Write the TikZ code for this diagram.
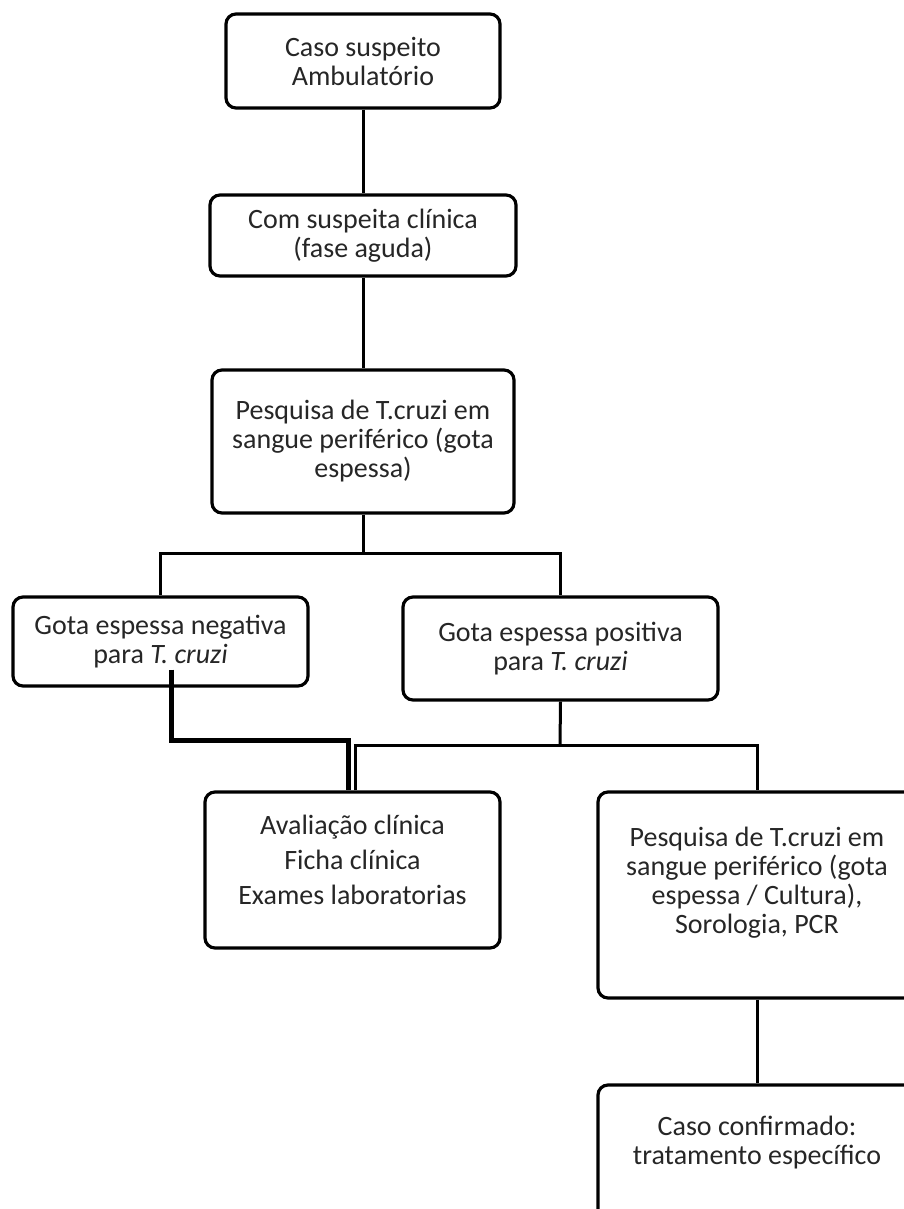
\documentclass[tikz,border=0pt]{standalone}
\usepackage{fontspec}
\setmainfont{Carlito}
\usepackage{tikz}
\usetikzlibrary{calc}

\begin{document}
\begin{tikzpicture}[x=1pt, y=-1pt, -, line join=miter,
  box/.style={draw, line width=3.2pt, rounded corners=10pt, align=center, inner sep=0pt, text=black!85, font=\fontsize{28}{29}\selectfont},
  link/.style={line width=3pt},
  thick link/.style={line width=5pt}]
\useasboundingbox (0,0) rectangle (903,1209);
\node[box, minimum width=274pt, minimum height=94pt] (caso) at (363,61) {Caso suspeito\\Ambulatório};
\node[box, minimum width=306pt, minimum height=81pt] (clin) at (363,235.5) {Com suspeita clínica\\(fase aguda)};
\node[box, minimum width=302pt, minimum height=143pt] (pesq) at (363,441.5) {Pesquisa de T.cruzi em\\sangue periférico (gota\\espessa)};
\node[box, minimum width=295pt, minimum height=89pt] (neg) at (160.5,641.5) {Gota espessa negativa\\para \textit{T. cruzi}};
\node[box, minimum width=315pt, minimum height=103pt] (pos) at (560.5,648.5) {Gota espessa positiva\\para \textit{T. cruzi}};
\node[box, minimum width=295pt, minimum height=156pt, text depth=20pt] (aval) at (352.5,870) {Avaliação clínica\\[6pt]Ficha clínica\\[6pt]Exames laboratorias};
\node[box, minimum width=318pt, minimum height=206pt, text depth=30pt] (lab) at (757,895) {Pesquisa de T.cruzi em\\sangue periférico (gota\\espessa / Cultura),\\Sorologia, PCR};
\node[box, minimum width=318pt, minimum height=150pt, text depth=40pt] (conf) at (757,1160) {Caso confirmado:\\tratamento específico};
\coordinate (j1) at (363,553);
\coordinate (j2) at (560,745);
\coordinate (bend) at (348,740);
\path[link]
(caso) edge (clin)
(clin) edge (pesq)
(pesq.south) edge (j1)
(pos.south) edge (j2)
(lab) edge (conf);
\draw[link] (neg.north) |- (j1) -| (pos.north);
\draw[link] ([xshift=3pt]aval.north) |- (j2) -| (lab.north);
\draw[thick link] ([xshift=11pt,yshift=18pt]neg.south) |- (bend) -- (aval.north -| bend);
\end{tikzpicture}
\end{document}
